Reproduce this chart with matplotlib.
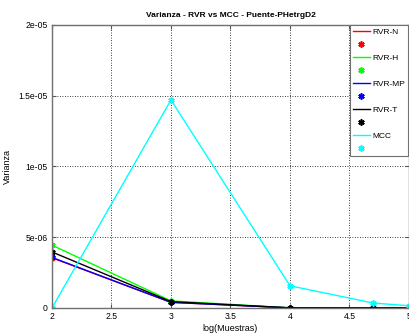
import matplotlib
matplotlib.use("Agg")
import matplotlib.pyplot as plt
from matplotlib.lines import Line2D
from matplotlib.ticker import FuncFormatter

x = [2, 3, 4, 4.699, 5]
series_names = ["RVR-N", "RVR-H", "RVR-MP", "RVR-T", "MCC"]
rvr_n = [3.55e-6, 4.0e-7, 1.0e-8, 2e-9, 1e-9]
rvr_h = [4.44e-6, 5.0e-7, 1.2e-8, 2e-9, 1e-9]
rvr_mp = [3.57e-6, 4.0e-7, 1.0e-8, 2e-9, 1e-9]
rvr_t = [3.96e-6, 4.5e-7, 1.0e-8, 2e-9, 1e-9]
mcc = [0.0, 1.47e-5, 1.57e-6, 3.5e-7, 1.6e-7]
colors = ["red", "#00ff00", "blue", "black", "cyan"]

plt.rcParams['font.family'] = ['Liberation Sans', 'DejaVu Sans']
fig = plt.figure(figsize=(4.09, 3.35), dpi=100)
ax = fig.add_axes([0.127, 0.0806, 0.873, 0.845])

star = (6, 2, 0)
handles = []
labels = []
for name, vals, c in zip(series_names, [rvr_n, rvr_h, rvr_mp, rvr_t, mcc], colors):
    ax.plot(x, vals, color=c, lw=1.0, marker=star, markersize=4.5,
            markeredgewidth=1.2, clip_on=True)
    handles.append(Line2D([], [], color=c, lw=1.0))
    labels.append(name)
    handles.append(Line2D([], [], color=c, lw=0, marker=star, markersize=4.5,
                          markeredgewidth=1.2))
    labels.append(" ")

ax.set_xlim(2, 5)
ax.set_ylim(0, 2e-5)
ax.set_xticks([2, 2.5, 3, 3.5, 4, 4.5, 5])
ax.set_yticks([0, 5e-6, 1e-5, 1.5e-5, 2e-5])
fmt = FuncFormatter(lambda v, p: "%g" % v)
ax.xaxis.set_major_formatter(fmt)
ax.yaxis.set_major_formatter(fmt)
ax.tick_params(direction='in', top=True, right=True, labelsize=6.2, length=3,
               color='#555555', pad=3)
ax.grid(True, linestyle=(0, (1, 2)), color='black', linewidth=0.6)
for s in ax.spines.values():
    s.set_color('#707070')
    s.set_linewidth(1.0)

ax.set_title("Varianza - RVR vs MCC - Puente-PHetrgD2", fontsize=6,
             fontweight='bold', pad=6)
ax.set_xlabel("log(Muestras)", fontsize=6.5, labelpad=2)
ax.set_ylabel("Varianza", fontsize=6.5)
ax.yaxis.set_label_coords(-0.112, 0.5)

leg = ax.legend(handles, labels, loc='upper right', bbox_to_anchor=(0.998, 1.0),
                fontsize=6, frameon=True, fancybox=False, edgecolor='#707070',
                framealpha=1, labelspacing=0.62, handlelength=2.0,
                handletextpad=0.3, borderpad=0.4, borderaxespad=0)
leg.get_frame().set_linewidth(0.8)

fig.savefig("out.png", dpi=100)
